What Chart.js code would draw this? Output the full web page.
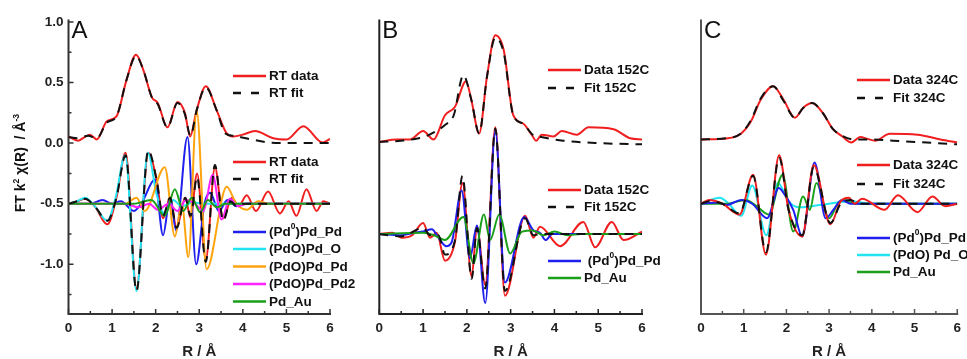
<!DOCTYPE html>
<html>
<head>
<meta charset="utf-8">
<script src="https://cdn.jsdelivr.net/npm/chart.js@4.4.1/dist/chart.umd.min.js"></script>
<style>
    body { margin: 0; background: #fff; width: 967px; height: 359px; position: relative; overflow: hidden; }
    .panel { position: absolute; top: 0; height: 359px; }
</style>
</head>
<body>
<div class="panel" style="left:0;width:380px"><canvas id="chartA"></canvas></div>
<div class="panel" style="left:340px;width:330px"><canvas id="chartB"></canvas></div>
<div class="panel" style="left:655px;width:312px"><canvas id="chartC"></canvas></div>
<script>
    "use strict";

    // Axis ticks
    var xTicks = [0, 1, 2, 3, 4, 5, 6];
    var yTicks = [1.0, 0.5, 0.0, -0.5, -1.0];

    // Panel A : RT (pairs of R, value)
    var aRtData = [[0,0.055],[0.22,0.02],[0.35,0.045],[0.49,0.07],[0.65,0.03],[0.88,0.18],[1.1,0.22],[1.33,0.52],[1.55,0.73],[1.72,0.6],[1.91,0.38],[2.05,0.33],[2.27,0.13],[2.5,0.34],[2.67,0.25],[2.79,0.055],[2.94,0.27],[3.15,0.47],[3.4,0.27],[3.63,0.08],[3.78,0.055],[4.0,0.07],[4.28,0.10],[4.7,0.04],[5.0,0.03],[5.39,0.14],[5.83,0.005],[6,0.035]];
    var aRtFit = [[0,0.05],[0.2,0.04],[0.45,0.06],[0.65,0.04],[0.88,0.17],[1.1,0.22],[1.33,0.52],[1.55,0.72],[1.72,0.6],[1.91,0.38],[2.05,0.32],[2.27,0.13],[2.5,0.33],[2.67,0.24],[2.8,0.06],[2.94,0.27],[3.15,0.46],[3.4,0.27],[3.6,0.08],[3.8,0.06],[4.2,0.03],[4.6,0.005],[5,0],[6,0]];
    var aRtDataLow = [[0,-0.5],[0.2,-0.48],[0.38,-0.46],[0.6,-0.52],[0.89,-0.67],[1.1,-0.45],[1.31,-0.08],[1.56,-1.2],[1.83,-0.08],[2.02,-0.3],[2.17,-0.62],[2.33,-0.45],[2.48,-0.7],[2.68,-0.45],[2.8,-0.62],[2.95,-0.25],[3.15,-0.96],[3.36,-0.2],[3.55,-0.62],[3.75,-0.45],[3.9,-0.52],[4.09,-0.43],[4.3,-0.56],[4.58,-0.4],[4.85,-0.58],[5.05,-0.48],[5.23,-0.6],[5.46,-0.38],[5.69,-0.56],[5.85,-0.48],[6,-0.5]];
    var aRtFitLow = [[0,-0.5],[0.2,-0.48],[0.38,-0.46],[0.6,-0.52],[0.89,-0.64],[1.1,-0.45],[1.31,-0.1],[1.56,-1.22],[1.83,-0.06],[2.02,-0.3],[2.17,-0.6],[2.33,-0.45],[2.48,-0.7],[2.68,-0.45],[2.8,-0.6],[2.95,-0.28],[3.15,-0.98],[3.36,-0.18],[3.55,-0.64],[3.72,-0.48],[3.85,-0.52],[4.0,-0.5],[6,-0.5]];
    var aPd0PdPd = [[0,-0.5],[0.5,-0.5],[0.78,-0.47],[1.0,-0.5],[1.2,-0.48],[1.5,-0.56],[1.7,-0.48],[1.98,-0.3],[2.17,-0.76],[2.33,-0.45],[2.47,-0.72],[2.73,0.05],[2.93,-1.0],[3.12,-0.5],[3.25,-0.41],[3.45,-0.56],[3.65,-0.47],[3.85,-0.52],[4.1,-0.5],[6,-0.5]];
    var aPdOPdO = [[0,-0.5],[0.2,-0.48],[0.38,-0.45],[0.6,-0.52],[0.89,-0.64],[1.08,-0.45],[1.3,-0.1],[1.56,-1.22],[1.82,-0.08],[2.02,-0.42],[2.2,-0.58],[2.4,-0.47],[2.6,-0.52],[2.85,-0.49],[3.1,-0.5],[6,-0.5]];
    var aPdOPdPd = [[0,-0.5],[1.3,-0.5],[1.56,-0.45],[1.75,-0.56],[2.21,-0.2],[2.44,-0.77],[2.6,-0.5],[2.75,-0.94],[2.94,0.27],[3.17,-1.04],[3.63,-0.36],[3.85,-0.5],[4.09,-0.55],[4.35,-0.48],[4.6,-0.5],[6,-0.5]];
    var aPdOPdPd2 = [[0,-0.5],[1.3,-0.5],[1.6,-0.53],[1.85,-0.5],[2.05,-0.55],[2.3,-0.5],[2.5,-0.56],[2.7,-0.47],[2.9,-0.5],[3.09,-0.56],[3.31,-0.26],[3.51,-0.63],[3.7,-0.46],[3.9,-0.52],[4.1,-0.5],[6,-0.5]];
    var aPdAu = [[0,-0.5],[1.5,-0.5],[1.9,-0.47],[2.21,-0.6],[2.44,-0.38],[2.63,-0.56],[2.83,-0.45],[3.02,-0.57],[3.2,-0.47],[3.4,-0.53],[3.6,-0.5],[6,-0.5]];

    // Panel B : 152C
    var bData = [[0,0.01],[0.4,0.03],[0.7,0.03],[1.0,0.10],[1.24,0.03],[1.5,0.23],[1.73,0.30],[1.98,0.51],[2.1,0.36],[2.28,0.08],[2.46,0.55],[2.65,0.89],[2.84,0.77],[3.06,0.23],[3.29,0.16],[3.48,0.07],[3.58,0.02],[3.71,0.07],[3.98,0.055],[4.17,0.1],[4.51,0.07],[4.78,0.13],[5.35,0.115],[5.73,0.04],[6,0.03]];
    var bFit = [[0,0.01],[0.5,0.02],[0.9,0.04],[1.15,0.07],[1.5,0.15],[1.7,0.23],[1.92,0.56],[2.1,0.36],[2.28,0.08],[2.46,0.55],[2.65,0.87],[2.84,0.75],[3.06,0.23],[3.29,0.16],[3.5,0.07],[3.7,0.05],[4.2,0.02],[5,0.0],[6,-0.01]];
    var bDataLow = [[0,-0.75],[0.3,-0.74],[0.51,-0.78],[0.75,-0.76],[1.0,-0.66],[1.16,-0.78],[1.31,-0.74],[1.5,-0.97],[1.73,-0.81],[1.9,-0.33],[2.11,-1.1],[2.23,-0.69],[2.42,-1.17],[2.65,0.13],[2.87,-1.26],[3.33,-0.6],[3.52,-0.78],[3.67,-0.69],[4.13,-0.85],[4.66,-0.65],[4.93,-0.86],[5.31,-0.65],[5.58,-0.8],[6,-0.73]];
    var bFitLow = [[0,-0.75],[0.5,-0.77],[1.0,-0.7],[1.16,-0.76],[1.35,-0.76],[1.5,-0.92],[1.73,-0.8],[1.9,-0.27],[2.11,-1.12],[2.23,-0.7],[2.42,-1.2],[2.65,0.12],[2.87,-1.22],[3.33,-0.62],[3.52,-0.76],[3.7,-0.75],[6,-0.75]];
    var bPd0PdPd = [[0,-0.75],[0.5,-0.76],[0.8,-0.74],[1.0,-0.73],[1.2,-0.71],[1.35,-0.78],[1.53,-0.85],[1.65,-0.82],[1.88,-0.39],[2.07,-0.95],[2.23,-0.68],[2.42,-1.32],[2.65,0.10],[2.87,-1.15],[3.31,-0.61],[3.52,-0.72],[3.67,-0.74],[3.8,-0.8],[3.95,-0.75],[6,-0.75]];
    var bPdAu = [[0,-0.75],[1.0,-0.74],[1.25,-0.76],[1.5,-0.8],[1.92,-0.61],[2.15,-0.99],[2.39,-0.59],[2.53,-0.8],[2.74,-0.59],[2.99,-0.91],[3.26,-0.73],[3.5,-0.72],[3.75,-0.76],[4.0,-0.73],[4.3,-0.76],[4.6,-0.75],[6,-0.75]];

    // Panel C : 324C
    var cData = [[0,0.03],[0.63,0.04],[0.94,0.08],[1.17,0.18],[1.4,0.36],[1.69,0.47],[1.93,0.36],[2.2,0.21],[2.39,0.29],[2.6,0.33],[2.85,0.25],[3.08,0.12],[3.31,0.055],[3.52,0.005],[3.73,0.05],[3.9,0.035],[4.08,0.02],[4.42,0.077],[5.07,0.07],[5.61,0.03],[6,0.005]];
    var cFit = [[0,0.03],[0.6,0.04],[0.94,0.08],[1.17,0.19],[1.4,0.37],[1.69,0.47],[1.93,0.35],[2.2,0.21],[2.39,0.29],[2.6,0.33],[2.85,0.25],[3.08,0.12],[3.31,0.06],[3.6,0.03],[4.0,0.03],[4.5,0.02],[5.5,0.0],[6,-0.01]];
    var cDataLow = [[0,-0.5],[0.2,-0.47],[0.5,-0.5],[0.9,-0.59],[1.22,-0.26],[1.52,-0.92],[1.83,-0.1],[2.05,-0.55],[2.37,-0.77],[2.64,-0.18],[3.03,-0.67],[3.27,-0.48],[3.46,-0.45],[3.6,-0.5],[3.77,-0.46],[4.3,-0.55],[4.61,-0.43],[5.07,-0.57],[5.42,-0.44],[5.72,-0.52],[6,-0.5]];
    var cFitLow = [[0,-0.5],[0.2,-0.48],[0.5,-0.5],[0.9,-0.58],[1.22,-0.27],[1.52,-0.9],[1.83,-0.12],[2.05,-0.55],[2.37,-0.76],[2.64,-0.2],[3.03,-0.66],[3.27,-0.5],[3.5,-0.47],[3.7,-0.5],[6,-0.5]];
    var cPd0PdPd = [[0,-0.5],[0.4,-0.49],[0.6,-0.51],[0.94,-0.47],[1.2,-0.5],[1.55,-0.62],[1.82,-0.37],[1.95,-0.42],[2.16,-0.55],[2.37,-0.77],[2.66,-0.16],[2.92,-0.62],[3.1,-0.55],[3.3,-0.47],[3.5,-0.5],[6,-0.5]];
    var cPdOPdO = [[0,-0.5],[0.44,-0.45],[0.65,-0.5],[0.94,-0.6],[1.2,-0.35],[1.53,-0.76],[1.8,-0.33],[2.05,-0.48],[2.3,-0.53],[2.6,-0.52],[3.0,-0.5],[3.5,-0.48],[4,-0.5],[6,-0.5]];
    var cPdAu = [[0,-0.5],[0.6,-0.5],[1.05,-0.47],[1.3,-0.52],[1.59,-0.59],[1.91,-0.26],[2.16,-0.73],[2.39,-0.44],[2.55,-0.55],[2.7,-0.33],[3.0,-0.62],[3.2,-0.5],[3.35,-0.47],[3.6,-0.5],[6,-0.5]];

    var RED = '#f01e1e', BLACK = '#111111', BLUE = '#1f1fef', CYAN = '#22e4f2',
        ORANGE = '#ffa30f', MAGENTA = '#ff22ff', GREEN = '#1a9f1a';
    var DASH = [9, 7];
    var FONT = '"Liberation Sans", Arial, sans-serif';

    Chart.defaults.font.family = FONT;

    function series(pairs, color, dash) {
        return {
            data: pairs.map(function (p) { return { x: p[0], y: p[1] }; }),
            borderColor: color,
            borderWidth: 2,
            borderDash: dash || [],
            pointRadius: 0,
            cubicInterpolationMode: 'monotone',
            fill: false
        };
    }

    // draws '(Pd{0})Pd_Pd' style text, braces = superscript
    function drawRich(ctx, str, x, y, size, measureOnly) {
        var parts = str.split(/(\{[^}]*\})/);
        var w = 0;
        parts.forEach(function (part) {
            if (!part) return;
            var sup = part.charAt(0) === '{';
            var t = sup ? part.slice(1, -1) : part;
            ctx.font = 'bold ' + (sup ? size * 0.62 : size) + 'px ' + FONT;
            if (!measureOnly) ctx.fillText(t, x + w, sup ? y - size * 0.4 : y);
            w += ctx.measureText(t).width;
        });
        return w;
    }

    var framePlugin = {
        id: 'frame',
        beforeDatasetsDraw: function (chart, args, opts) {
            var ctx = chart.ctx, a = chart.chartArea, x = chart.scales.x, y = chart.scales.y;
            ctx.save();
            ctx.strokeStyle = opts.axisColor;
            ctx.lineWidth = 2;
            ctx.beginPath();
            ctx.moveTo(a.left, a.top);
            ctx.lineTo(a.left, a.bottom);
            ctx.lineTo(a.right + 1, a.bottom);
            ctx.stroke();

            // inward ticks
            ctx.lineWidth = 1.5;
            ctx.beginPath();
            xTicks.forEach(function (v, i) {
                var px = x.getPixelForValue(v);
                ctx.moveTo(px, a.bottom); ctx.lineTo(px, a.bottom - 5);
                if (i < xTicks.length - 1) {
                    var pm = x.getPixelForValue(v + 0.5);
                    ctx.moveTo(pm, a.bottom); ctx.lineTo(pm, a.bottom - 3);
                }
            });
            if (opts.showY) {
                yTicks.forEach(function (v) {
                    var py = y.getPixelForValue(v);
                    ctx.moveTo(a.left, py); ctx.lineTo(a.left + 5, py);
                    [v + 0.25, v - 0.25].forEach(function (m) {
                        if (m < y.max && m > y.min) {
                            var pm = y.getPixelForValue(m);
                            ctx.moveTo(a.left, pm); ctx.lineTo(a.left + 3, pm);
                        }
                    });
                });
            }
            ctx.stroke();
            ctx.restore();
        },
        afterDraw: function (chart, args, opts) {
            var ctx = chart.ctx, a = chart.chartArea;
            ctx.save();

            // panel letter
            ctx.fillStyle = '#111';
            ctx.font = '24px ' + FONT;
            ctx.textBaseline = 'alphabetic';
            ctx.fillText(opts.letter, a.left + 3, 38);

            // legend
            ctx.textBaseline = 'middle';
            opts.legend.forEach(function (item) {
                ctx.strokeStyle = item.color;
                ctx.lineWidth = 2.5;
                ctx.setLineDash(item.dash ? [8, 10] : []);
                ctx.beginPath();
                ctx.moveTo(opts.legendX, item.y);
                ctx.lineTo(opts.legendX + 33, item.y);
                ctx.stroke();
                ctx.setLineDash([]);
                ctx.fillStyle = '#111';
                drawRich(ctx, item.text, opts.legendX + 36, item.y + 0.5, 13.5);
            });

            // y axis title
            if (opts.yTitle) {
                var title = 'FT k{2} \u03C7(R)  / \u00C5{-3}';
                ctx.textBaseline = 'alphabetic';
                ctx.translate(25, 163);
                ctx.rotate(-Math.PI / 2);
                var w = drawRich(ctx, title, 0, 0, 14, true);
                drawRich(ctx, title, -w / 2, 0, 14);
            }
            ctx.restore();
        }
    };

    function panel(id, datasets, opt) {
        return new Chart(document.getElementById(id), {
            type: 'line',
            data: { datasets: datasets },
            options: {
                responsive: true,
                maintainAspectRatio: false,
                animation: false,
                layout: { padding: { top: 19.5, right: opt.padRight, left: 0, bottom: 0 } },
                plugins: {
                    legend: { display: false },
                    tooltip: { enabled: false },
                    frame: opt
                },
                scales: {
                    x: {
                        type: 'linear', min: 0, max: 6,
                        afterBuildTicks: function (s) { s.ticks = xTicks.map(function (v) { return { value: v }; }); },
                        afterFit: function (s) { s.height = 45; },
                        grid: { display: false, drawTicks: false },
                        border: { display: false },
                        ticks: { font: { size: 13.5, weight: 'bold' }, color: '#222', padding: 6, maxRotation: 0, autoSkip: false },
                        title: { display: true, text: 'R / \u00C5', color: '#222', padding: 0,
                                 font: { size: 15, weight: 'bold', lineHeight: 1 } }
                    },
                    y: {
                        type: 'linear', min: -1.41, max: 1.02,
                        afterBuildTicks: function (s) {
                            if (opt.showY) s.ticks = yTicks.map(function (v) { return { value: v }; });
                        },
                        afterFit: function (s) { s.width = opt.axisWidth; },
                        grid: { display: false, drawTicks: false },
                        border: { display: false },
                        ticks: { display: !!opt.showY, font: { size: 13.5, weight: 'bold' }, color: '#222', padding: 5,
                                 callback: function (v) { return v.toFixed(1); } }
                    }
                }
            },
            plugins: [framePlugin]
        });
    }

    // Panel A
    panel('chartA', [
        series(aRtFit, BLACK, DASH),
        series(aRtFitLow, BLACK, DASH),
        series(aPdAu, GREEN),
        series(aPdOPdPd2, MAGENTA),
        series(aPdOPdPd, ORANGE),
        series(aPdOPdO, CYAN),
        series(aPd0PdPd, BLUE),
        series(aRtData, RED),
        series(aRtDataLow, RED)
    ], {
        letter: 'A', showY: true, yTitle: true, axisWidth: 68.5, padRight: 50, axisColor: '#333',
        legendX: 233,
        legend: [
            { y: 76, text: 'RT data', color: RED },
            { y: 93, text: 'RT fit', color: BLACK, dash: true },
            { y: 162, text: 'RT data', color: RED },
            { y: 179, text: 'RT fit', color: BLACK, dash: true },
            { y: 232, text: '(Pd{0})Pd_Pd', color: BLUE },
            { y: 249, text: '(PdO)Pd_O', color: CYAN },
            { y: 266.5, text: '(PdO)Pd_Pd', color: ORANGE },
            { y: 284, text: '(PdO)Pd_Pd2', color: MAGENTA },
            { y: 301.5, text: 'Pd_Au', color: GREEN }
        ]
    });

    // Panel B
    panel('chartB', [
        series(bFit, BLACK, DASH),
        series(bFitLow, BLACK, DASH),
        series(bPdAu, GREEN),
        series(bPd0PdPd, BLUE),
        series(bData, RED),
        series(bDataLow, RED)
    ], {
        letter: 'B', showY: false, axisWidth: 39.3, padRight: 28, axisColor: '#222',
        legendX: 208,
        legend: [
            { y: 70, text: 'Data 152C', color: RED },
            { y: 88, text: 'Fit 152C', color: BLACK, dash: true },
            { y: 190, text: 'Data 152C', color: RED },
            { y: 207, text: 'Fit 152C', color: BLACK, dash: true },
            { y: 261, text: ' (Pd{0})Pd_Pd', color: BLUE },
            { y: 278, text: 'Pd_Au', color: GREEN }
        ]
    });

    // Panel C
    panel('chartC', [
        series(cFit, BLACK, DASH),
        series(cFitLow, BLACK, DASH),
        series(cDataLow, RED),
        series(cData, RED),
        series(cPd0PdPd, BLUE),
        series(cPdAu, GREEN),
        series(cPdOPdO, CYAN)
    ], {
        letter: 'C', showY: false, axisWidth: 46, padRight: 5, axisColor: '#555',
        legendX: 202,
        legend: [
            { y: 80, text: 'Data 324C', color: RED },
            { y: 98, text: 'Fit 324C', color: BLACK, dash: true },
            { y: 165, text: 'Data 324C', color: RED },
            { y: 184, text: 'Fit 324C', color: BLACK, dash: true },
            { y: 238, text: '(Pd{0})Pd_Pd', color: BLUE },
            { y: 255, text: '(PdO) Pd_O', color: CYAN },
            { y: 272, text: 'Pd_Au', color: GREEN }
        ]
    });
</script>
</body>
</html>
